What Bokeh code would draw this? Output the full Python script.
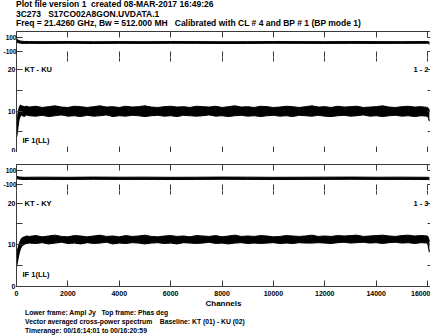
import html
from bokeh.plotting import figure
from bokeh.layouts import column
from bokeh.models import Range1d, FixedTicker, LinearAxis, Label, Div
from bokeh.embed import file_html
from bokeh.resources import INLINE

# ---------------- text ----------------
title_lines = [
    "Plot file version 1  created 08-MAR-2017 16:49:26",
    "3C273   S17CO02A8GON.UVDATA.1",
    "Freq = 21.4260 GHz, Bw = 512.000 MH   Calibrated with CL # 4 and BP # 1 (BP mode 1)",
]
footer_lines = [
    "Lower frame: Ampl Jy   Top frame: Phas deg",
    "Vector averaged cross-power spectrum    Baseline: KT (01) - KU (02)",
    "Timerange: 00/16:14:01 to 00/16:20:59",
]
baselines = ["KT - KU", "KT - KY"]
baseline_ids = ["1 - 2", "1 - 3"]
if_label = "IF 1(LL)"
x_label = "Channels"

# ---------------- ticks ----------------
x_ticks = [0, 2000, 4000, 6000, 8000, 10000, 12000, 14000, 16000]
amp_ticks = [0, 5, 10, 15, 20]
amp_tick_labels = {0: "0", 5: "", 10: "10", 15: "", 20: "20"}
phase_ticks = [-100, 100]
phase_tick_labels = {-100: "-100", 100: "100"}

# ---------------- data ----------------
amp_start_ch = [0, 30, 60, 100, 150, 200, 300, 400]
amp_mid_ch = list(range(500, 16001, 250))
amp_end_ch = [16040, 16070]

amp1_upper = ([6.2, 7.8, 9.6, 10.8, 11.5, 11.3, 11.1, 11.2] +
              [11.0, 11.2, 10.9, 11.1, 11.3, 11.0, 10.9, 11.2, 11.1,
               10.9, 11.1, 11.3, 11.0, 11.1, 10.9, 11.2, 11.0, 11.1,
               11.3, 11.0, 10.9, 11.1, 11.2, 11.0, 11.1, 10.9, 11.2,
               11.1, 11.0, 11.2, 10.9, 11.1, 11.3, 11.0, 11.1, 10.9,
               11.2, 11.1, 10.9, 11.0, 11.2, 11.1, 10.9, 11.1, 11.3,
               11.0, 11.1, 10.9, 11.2, 11.0, 11.1, 11.2, 10.9, 11.0,
               11.1, 11.3, 11.0, 10.9, 11.1, 11.2, 11.0, 11.1, 10.9] +
              [10.7, 10.2])
amp1_lower = ([3.6, 4.6, 6.2, 7.9, 8.8, 9.0, 8.7, 9.1] +
              [8.9, 8.8, 9.0, 8.7, 8.9, 9.1, 8.8, 8.9, 8.7,
               9.0, 8.8, 8.9, 9.1, 8.7, 8.9, 8.8, 9.0, 8.9,
               8.7, 8.9, 9.0, 8.8, 8.9, 8.7, 9.0, 8.9, 8.8,
               8.9, 9.1, 8.8, 8.9, 8.7, 8.9, 9.0, 8.8, 8.9,
               8.7, 8.9, 9.0, 8.8, 8.9, 8.7, 9.0, 8.9, 8.8,
               9.0, 8.8, 8.7, 8.9, 9.0, 8.8, 8.9, 9.1, 8.8,
               8.9, 8.7, 8.9, 9.0, 8.8, 8.9, 8.7, 8.9, 8.8] +
              [8.2, 7.6])
amp2_upper = ([7.2, 8.4, 9.3, 10.2, 11.0, 11.6, 11.9, 12.1] +
              [12.0, 12.2, 11.9, 12.1, 12.3, 12.0, 11.9, 12.2, 12.1,
               11.9, 12.1, 12.3, 12.0, 12.1, 11.9, 12.2, 12.0, 12.1,
               12.3, 12.0, 11.9, 12.1, 12.2, 12.0, 12.1, 11.9, 12.2,
               12.1, 12.0, 12.2, 11.9, 12.1, 12.3, 12.0, 12.1, 12.0,
               12.2, 12.1, 11.9, 12.0, 12.2, 12.1, 12.0, 12.1, 12.3,
               12.0, 12.1, 12.0, 12.2, 12.1, 12.2, 12.3, 12.0, 12.1,
               12.2, 12.3, 12.1, 12.0, 12.2, 12.3, 12.1, 12.2, 12.1] +
              [11.6, 10.8])
amp2_lower = ([4.6, 5.6, 6.6, 7.8, 8.9, 9.6, 10.1, 10.3] +
              [10.4, 10.3, 10.5, 10.2, 10.4, 10.6, 10.3, 10.4, 10.2,
               10.5, 10.3, 10.4, 10.6, 10.2, 10.4, 10.3, 10.5, 10.4,
               10.2, 10.4, 10.5, 10.3, 10.4, 10.2, 10.5, 10.4, 10.3,
               10.4, 10.6, 10.3, 10.4, 10.2, 10.4, 10.5, 10.3, 10.4,
               10.3, 10.4, 10.5, 10.3, 10.4, 10.3, 10.5, 10.4, 10.4,
               10.5, 10.4, 10.3, 10.5, 10.6, 10.4, 10.5, 10.6, 10.4,
               10.5, 10.3, 10.5, 10.6, 10.4, 10.5, 10.3, 10.5, 10.4] +
              [9.2, 8.2])

ph_ch = [0, 60, 150, 300, 500, 1000, 2000, 3000, 4000, 5000, 6000, 7000, 8000,
         9000, 10000, 11000, 12000, 13000, 14000, 15000, 16000, 16070]
ph1_upper = [80, 60, 48, 42, 40, 39, 41, 38, 40, 39, 41, 40, 38, 39, 41, 40, 39, 41, 40, 39, 41, 34]
ph1_lower = [35, 25, 18, 15, 16, 15, 17, 14, 16, 15, 17, 16, 14, 15, 17, 16, 15, 16, 15, 16, 17, 5]
ph2_upper = [18, 10, 6, 3, 4, 5, 3, 6, 4, 5, 3, 4, 6, 5, 3, 4, 5, 6, 4, 5, 3, 0]
ph2_lower = [-12, -20, -25, -28, -27, -26, -28, -25, -27, -26, -28, -27, -25, -26, -28, -27, -26, -25, -27, -26, -28, -32]

# ---------------- styling ----------------
FONT = "Liberation Sans"
FRAME = "#3a3a3a"
INK = "#000000"
X_END = 16115
W = 414


def make_fig(frame_h, y0, y1, top=0, bottom=0):
    p = figure(frame_width=W, frame_height=frame_h, output_backend="svg",
               toolbar_location=None, x_range=Range1d(0, X_END),
               y_range=Range1d(y0, y1), x_axis_location=None, y_axis_location=None,
               min_border_left=16, min_border_right=0, min_border_top=top,
               min_border_bottom=bottom)
    p.grid.visible = False
    p.outline_line_color = None
    p.background_fill_color = "white"
    p.border_fill_color = "white"
    return p


def add_axis(p, place, ticks, labels=None, tick_len=6, size="7px", standoff=1,
             line=True):
    ax = LinearAxis(ticker=FixedTicker(ticks=ticks))
    ax.major_tick_in = tick_len
    ax.major_tick_out = 0
    ax.minor_tick_in = 0
    ax.minor_tick_out = 0
    ax.axis_line_color = FRAME if line else None
    ax.major_tick_line_color = FRAME
    if labels is None:
        ax.major_label_overrides = {t: "" for t in ticks}
        ax.major_label_text_font_size = "0px"
        ax.major_label_standoff = 0
    else:
        ax.major_label_overrides = labels
        ax.major_label_text_font = FONT
        ax.major_label_text_font_style = "bold"
        ax.major_label_text_font_size = size
        ax.major_label_text_color = INK
        ax.major_label_standoff = standoff
    p.add_layout(ax, place)
    return ax


def text_label(p, txt, x, y, size, xo=0, align="left"):
    p.add_layout(Label(x=x, y=y, x_offset=xo, text=txt, text_align=align,
                       text_baseline="middle", text_font=FONT,
                       text_font_style="bold", text_font_size=size,
                       text_color=INK))


def draw_band(p, xs, up, lo):
    p.varea(x=xs, y1=lo, y2=up, fill_color=INK)
    p.line(x=xs, y=up, line_color=INK, line_width=1)
    p.line(x=xs, y=lo, line_color=INK, line_width=1)


def phase_panel(top, up, lo):
    p = make_fig(26, -180, 180, top=top)
    add_axis(p, "left", phase_ticks, phase_tick_labels, size="6.5px", standoff=0)
    add_axis(p, "right", phase_ticks, None, tick_len=3)
    add_axis(p, "above", x_ticks)
    add_axis(p, "below", x_ticks)
    draw_band(p, ph_ch, up, lo)
    return p


def amp_panel(frame_h, up, lo, name, bid, bottom=0, x_labels=False):
    p = make_fig(frame_h, 0, 23, bottom=bottom)
    add_axis(p, "left", amp_ticks, amp_tick_labels)
    add_axis(p, "right", amp_ticks, None, tick_len=3)
    # the top edge is shared with the phase frame above, so only ticks here
    add_axis(p, "above", x_ticks, None, tick_len=4, line=False)
    if x_labels:
        xb = add_axis(p, "below", x_ticks, {t: str(t) for t in x_ticks}, standoff=4)
        xb.axis_label = x_label
        xb.axis_label_text_font = FONT
        xb.axis_label_text_font_style = "bold"
        xb.axis_label_text_font_size = "8px"
        xb.axis_label_text_color = INK
        xb.axis_label_standoff = 0
    else:
        add_axis(p, "below", x_ticks)
    xs = amp_start_ch + amp_mid_ch + amp_end_ch
    draw_band(p, xs, up, lo)
    text_label(p, name, 0, 20, "7.5px", xo=8)
    text_label(p, if_label, 0, 2.8, "7.5px", xo=6)
    text_label(p, bid, X_END, 20, "7.5px", xo=-2, align="right")
    return p


def text_block(lines, height, size, line_h, pad_left, shift=0):
    body = "<br>".join(html.escape(l) for l in lines)
    style = ("font-family:'Liberation Sans',Arial,sans-serif;font-weight:bold;"
             f"font-size:{size};line-height:{line_h};color:#000;white-space:pre;"
             f"padding-left:{pad_left}px;margin:0;position:relative;top:{shift}px;")
    return Div(text=f'<div style="{style}">{body}</div>', width=430, height=height,
               margin=(0, 0, 0, 0))


header = text_block(title_lines, 31, "8.5px", "9.5px", 16, shift=0)
p1 = phase_panel(0, ph1_upper, ph1_lower)
p2 = amp_panel(95, amp1_upper, amp1_lower, baselines[0], baseline_ids[0])
p3 = phase_panel(12, ph2_upper, ph2_lower)
p4 = amp_panel(96, amp2_upper, amp2_lower, baselines[1], baseline_ids[1],
               bottom=21, x_labels=True)
footer = text_block(footer_lines, 28, "6.8px", "9px", 25, shift=-2)

layout = column(header, p1, p2, p3, p4, footer, spacing=0)
open("out.html", "w").write(file_html(layout, INLINE))
